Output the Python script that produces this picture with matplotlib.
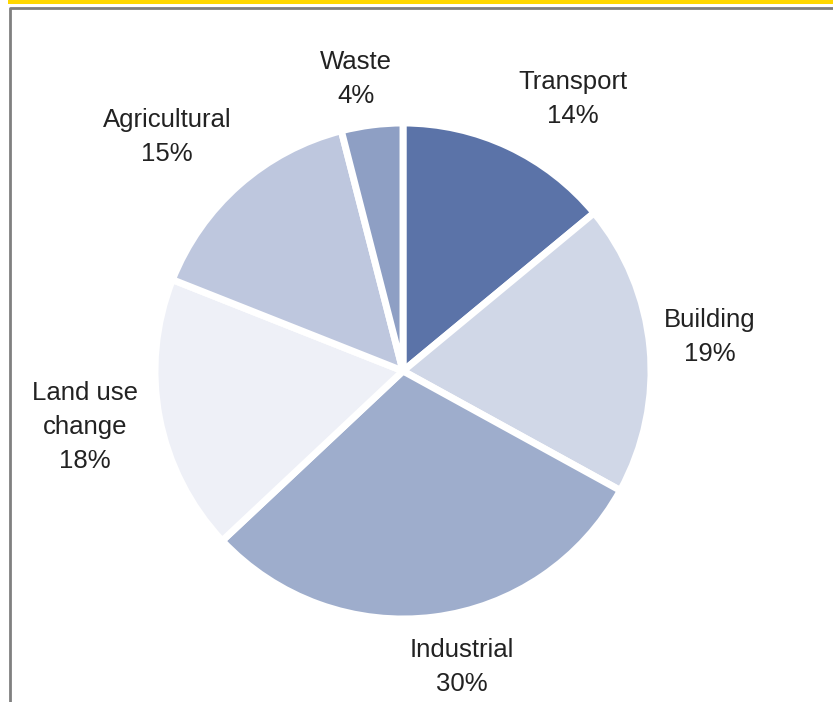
import matplotlib.pyplot as plt
from matplotlib.patches import Rectangle

labels = ['Transport', 'Building', 'Industrial', 'Land use\nchange', 'Agricultural', 'Waste']
shares = [14, 19, 30, 18, 15, 4]
colors = ['#5b73a8', '#d0d7e7', '#9eadcc', '#eef0f7', '#bec7de', '#8e9fc4']
# label centres in pixels (x from left, y from top)
label_pos = [(573, 99), (710, 337), (462, 667), (85, 427), (167, 137), (356, 79)]

W, H = 833, 702
fig = plt.figure(figsize=(W / 100, H / 100), dpi=100)
ax = fig.add_axes([0, 0, 1, 1])

ax.pie(shares, colors=colors, startangle=90, counterclock=False,
       center=(403, H - 371), radius=248, frame=True,
       wedgeprops=dict(edgecolor='white', linewidth=5))
ax.set_xlim(0, W)
ax.set_ylim(0, H)
ax.set_aspect('equal')
ax.axis('off')

# yellow strip and grey frame
ax.add_patch(Rectangle((8, H - 4), W, 4, color='#ffd700', lw=0))
ax.plot([10, 10, W + 5], [-5, H - 8, H - 8], color='#808080', lw=2, solid_capstyle='butt')

for lab, val, (x, y) in zip(labels, shares, label_pos):
    ax.text(x, H - y, f'{lab}\n{val}%', ha='center', va='center',
            fontsize=18.5, family='Liberation Sans', color='#222222', linespacing=1.5)

fig.savefig('out.png', dpi=100)
